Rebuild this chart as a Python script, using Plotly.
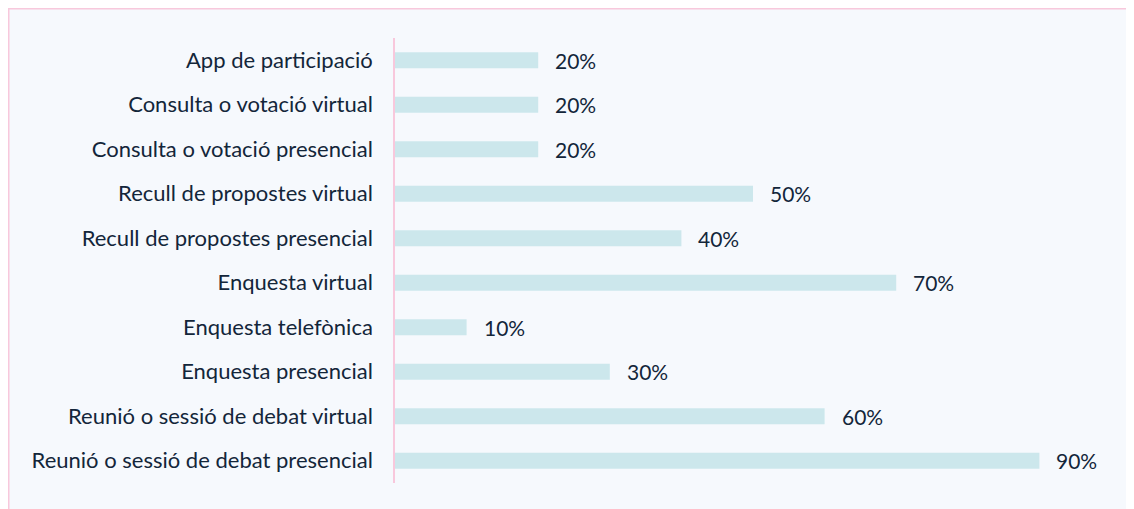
import plotly.graph_objects as go

categories = [
    "App de participació",
    "Consulta o votació virtual",
    "Consulta o votació presencial",
    "Recull de propostes virtual",
    "Recull de propostes presencial",
    "Enquesta virtual",
    "Enquesta telefònica",
    "Enquesta presencial",
    "Reunió o sessió de debat virtual",
    "Reunió o sessió de debat presencial",
]
values = [20, 20, 20, 50, 40, 70, 10, 30, 60, 90]
value_labels = [f"{v}%" for v in values]

BAR = "#cce7ec"
BG = "#f6f9fd"
PINK = "#f8c8dc"
TXT = "#13263a"
FONT = "Lato"

W, H = 1126, 501
L, R, T, B = 387, 23, 30, 26
pw, ph = W - L - R, H - T - B

fig = go.Figure()
fig.add_trace(go.Bar(
    x=values, y=categories, orientation="h",
    marker=dict(color=BAR, line=dict(width=0)),
    width=0.36, hoverinfo="skip",
))

for v, c, t in zip(values, categories, value_labels):
    fig.add_annotation(x=v, y=c, text=t, showarrow=False, xanchor="left",
                       xshift=15, font=dict(family=FONT, size=21, color=TXT))

# pink border on the panel edges (left/top visible)
fig.add_shape(type="rect", xref="paper", yref="paper",
              x0=(0 - L) / pw, x1=(W + 20 - L) / pw,
              y0=(H - B - (H + 20)) / ph, y1=(H - B - 0) / ph,
              fillcolor="rgba(0,0,0,0)", line=dict(color=PINK, width=3),
              layer="below")

fig.update_layout(
    width=W, height=H,
    margin=dict(l=L, r=R, t=T, b=B),
    paper_bgcolor=BG, plot_bgcolor="rgba(0,0,0,0)",
    showlegend=False,
    font=dict(family=FONT, size=22, color=TXT),
    xaxis=dict(range=[0, 100], visible=False, fixedrange=True),
    yaxis=dict(autorange="reversed", showgrid=False, zeroline=False,
               showline=True, linecolor=PINK, linewidth=1.5,
               ticks="", ticklabelstandoff=16,
               tickfont=dict(family=FONT, size=22, color=TXT)),
)

fig.write_html("out.html")
